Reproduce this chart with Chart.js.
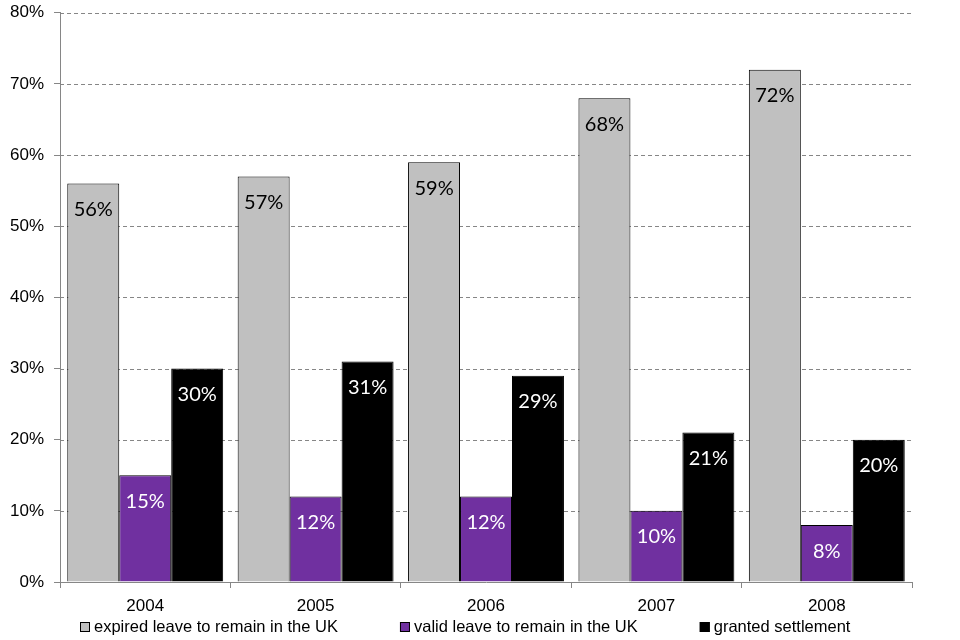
<!DOCTYPE html>
<html>
<head>
<meta charset="utf-8">
<script src="https://cdn.jsdelivr.net/npm/chart.js@4"></script>
<style>
  html, body { margin:0; padding:0; background:#fff; overflow:hidden; }
  #wrap { width:960px; height:644px; margin-top:-4px; }
</style>
</head>
<body>
<div id="wrap"><canvas id="chart"></canvas></div>
<script>
/* ── Data ── */
const years      = ['2004', '2005', '2006', '2007', '2008'];
const expired    = [56, 57, 59, 68, 72];
const validLeave = [15, 12, 12, 10, 8];
const settlement = [30, 31, 29, 21, 20];

const C = { grey:'#C0C0C0', purple:'#7030A0', black:'#000000', grid:'#868686' };

Chart.defaults.font.family = "'Liberation Sans', Arial, sans-serif";
Chart.defaults.font.size   = 17;
Chart.defaults.color       = '#000';

/* ── labels inside bar tops ── */
const barLabels = {
  id: 'barLabels',
  afterDatasetsDraw(chart) {
    const ctx = chart.ctx;
    ctx.save();
    ctx.font = "20px Lato, 'Open Sans', sans-serif";
    ctx.textAlign = 'center';
    ctx.textBaseline = 'middle';
    chart.data.datasets.forEach((ds, di) => {
      chart.getDatasetMeta(di).data.forEach((bar, i) => {
        ctx.fillStyle = ds.labelColor;
        ctx.fillText(ds.data[i] + '%', bar.x, bar.y + 26);
      });
    });
    ctx.restore();
  },
};

/* ── dashed horizontal grid ── */
const dashGrid = {
  id: 'dashGrid',
  beforeDatasetsDraw(chart) {
    const { ctx, chartArea: a, scales: { y } } = chart;
    ctx.save();
    ctx.strokeStyle = C.grid;
    ctx.lineWidth = 1;
    ctx.setLineDash([4, 3]);
    y.ticks.forEach(t => {
      if (t.value === 0) return;
      const py = Math.round(y.getPixelForValue(t.value)) + 0.5;
      ctx.beginPath(); ctx.moveTo(a.left, py); ctx.lineTo(a.right, py); ctx.stroke();
    });
    ctx.restore();
  },
};

/* ── Excel-style legend: small square, wide even gaps ── */
const bottomLegend = {
  id: 'bottomLegend',
  afterDraw(chart) {
    const ctx = chart.ctx;
    const box = 10, gap = 4, spacing = 62, cx = 465, cy = 631;
    ctx.save();
    ctx.font = "16.5px 'Liberation Sans', Arial, sans-serif";
    ctx.textBaseline = 'middle';
    const items = chart.data.datasets.map(ds => ({
      ds, w: box + gap + ctx.measureText(ds.label).width,
    }));
    const total = items.reduce((s, it) => s + it.w, 0) + spacing * (items.length - 1);
    let x = Math.round(cx - total / 2);
    items.forEach(({ ds, w }) => {
      ctx.fillStyle = ds.backgroundColor;
      ctx.fillRect(x, cy - box / 2, box, box);
      ctx.strokeStyle = '#000';
      ctx.lineWidth = 1;
      ctx.strokeRect(x + 0.5, cy - box / 2 + 0.5, box - 1, box - 1);
      ctx.fillStyle = '#000';
      ctx.fillText(ds.label, x + box + gap, cy);
      x += w + spacing;
    });
    ctx.restore();
  },
};

const bar = (label, data, color, labelColor) => ({
  label, data,
  backgroundColor: color,
  borderColor: '#000',
  borderWidth: 1,
  borderSkipped: 'bottom',
  labelColor,
  categoryPercentage: 0.915,
  barPercentage: 1.0,
});

new Chart(document.getElementById('chart'), {
  type: 'bar',
  data: {
    labels: years,
    datasets: [
      bar('expired leave to remain in the UK', expired, C.grey, '#000'),
      bar('valid leave to remain in the UK', validLeave, C.purple, '#fff'),
      bar('granted settlement', settlement, C.black, '#fff'),
    ],
  },
  options: {
    responsive: true, maintainAspectRatio: false, animation: false,
    layout: { padding: { left: 0, right: 48, top: 0, bottom: 22 } },
    plugins: {
      tooltip: { enabled: false },
      legend: { display: false },
    },
    scales: {
      y: {
        min: 0, max: 80,
        ticks: { stepSize: 10, callback: v => v + '%', padding: 10, font: { lineHeight: 0.8 } },
        border: { display: true, color: C.grid, width: 1 },
        grid: { drawOnChartArea: false, tickColor: C.grid, tickLength: 6 },
      },
      x: {
        ticks: { padding: 8 },
        border: { display: true, color: C.grid, width: 1 },
        grid: { drawOnChartArea: false, tickColor: C.grid, tickLength: 6, offset: true },
        afterFit: s => { s.height = 36; },
      },
    },
  },
  plugins: [dashGrid, barLabels, bottomLegend],
});
</script>
</body>
</html>
